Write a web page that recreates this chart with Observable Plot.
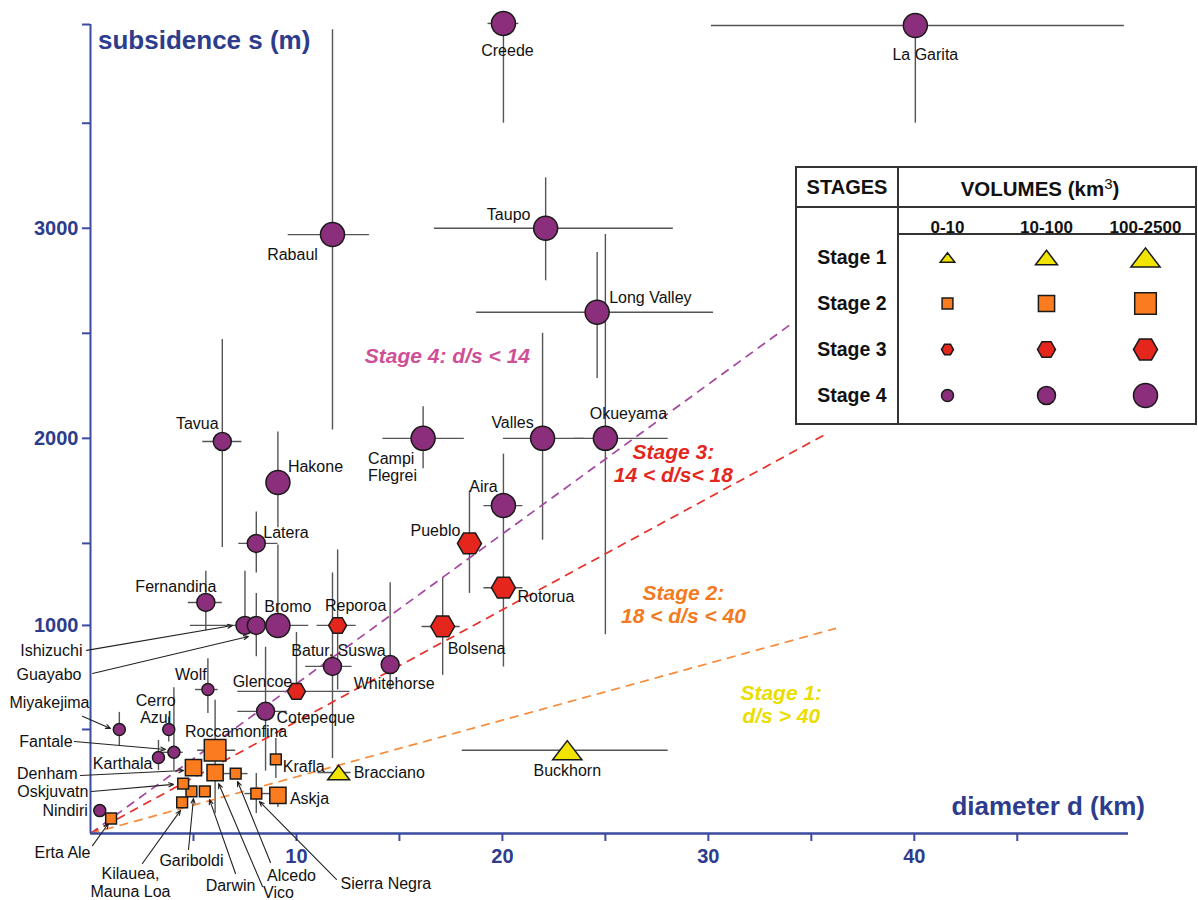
<!DOCTYPE html>
<html><head><meta charset="utf-8">
<script src="https://cdn.jsdelivr.net/npm/d3@7"></script>
<script src="https://cdn.jsdelivr.net/npm/@observablehq/plot@0.6"></script>
<style>
body{margin:0;background:#fff;}
#wrap{position:relative;width:1198px;height:900px;overflow:hidden;font-family:"Liberation Sans",Arial,Helvetica,sans-serif;background:#fff;}
#wrap > svg{position:absolute;left:0;top:0;}
.axtitle{position:absolute;color:#2d3c8c;font-weight:bold;font-size:26px;white-space:nowrap;line-height:1;}
#legend{position:absolute;left:795px;top:166px;width:402px;height:259px;border:2px solid #333;box-sizing:border-box;background:#fff;}
#legend .ln{position:absolute;background:#333;}
#legend .hd{position:absolute;font-weight:bold;color:#111;white-space:nowrap;line-height:1;text-align:center;}
#legend svg{position:absolute;left:0;top:38px;}
</style></head>
<body><div id="wrap"></div>
<script>
// ---------------- data ----------------
const names = ["Creede","La Garita","Rabaul","Taupo","Long Valley","Valles","Okueyama","Campi Flegrei","Tavua","Hakone",
  "Latera","Fernandina","Ishizuchi","Guayabo","Bromo","Cotepeque","Batur, Suswa","Whitehorse","Aira","Wolf",
  "Cerro Azul","Fantale","Karthala","Miyakejima","Nindiri",
  "Reporoa","Glencoe","Pueblo","Rotorua","Bolsena",
  "Roccamonfina","Vico","Alcedo","Darwin","Gariboldi","Kilauea, Mauna Loa","Oskjuvatn","Denham","Askja","Krafla","Sierra Negra","Erta Ale",
  "Bracciano","Buckhorn"];
// diameter d (km)
const diam = [20.05,40.05,11.75,22.1,24.6,21.95,25.0,16.15,6.4,9.1,
  8.05,5.6,7.5,8.05,9.1,8.5,11.75,14.55,20.05,5.7,
  3.8,4.05,3.3,1.4,0.45,
  12.0,10.0,18.4,20.05,17.1,
  6.05,6.05,7.05,5.55,4.9,4.45,4.5,5.0,9.1,9.0,8.05,1.0,
  12.05,23.15];
// subsidence s (m)
const subs = [3975,3965,2970,3000,2600,2000,2000,2000,1985,1790,
  1500,1140,1000,1000,1000,587,803,812,1680,692,
  500,390,365,500,110,
  1000,683,1500,1230,995,
  400,293,288,202,202,150,240,317,183,356,192,72,
  293,400];
// stage 1..4
const stage = [4,4,4,4,4,4,4,4,4,4, 4,4,4,4,4,4,4,4,4,4, 4,4,4,4,4, 3,3,3,3,3, 2,2,2,2,2,2,2,2,2,2,2,2, 1,1];
// volume class: 1 = 0-10, 2 = 10-100, 3 = 100-2500 km3
const vol = [3,3,3,3,3,3,3,3,2,3, 2,2,2,2,3,2,2,2,3,1, 1,1,1,1,1, 2,2,3,3,3, 3,2,1,1,1,1,1,2,2,1,1,1, 2,3];
// diameter uncertainty (km)
const dLo = [19.3,30.15,9.6,16.7,18.75,20.05,23.5,14.2,5.45,null, 7.2,4.75,4.85,null,8.5,7.15,10.45,null,19.1,5.1,
  null,3.25,null,null,null, 11.0,7.15,null,19.1,16.1, 5.2,null,6.4,null,null,null,null,null,null,null,7.5,null, 11.05,18.05];
const dHi = [20.8,50.2,13.55,28.3,30.25,24.0,28.05,18.15,7.35,null, 9.1,6.4,9.5,null,10.6,9.55,12.7,null,21.0,6.2,
  null,4.5,null,null,null, 12.9,12.6,null,21.0,17.95, 7.05,null,7.65,null,null,null,null,null,null,null,8.75,null, 12.65,28.05];
// subsidence uncertainty (m)
const sLo = [3500,3500,2040,2750,2285,1515,955,1855,1475,1575, 1320,975,1000,850,1000,300,360,690,800,577,
  440,303,303,423,null, 690,683,1195,null,760, 95,null,null,null,null,null,null,null,125,264,96,null, null,null];
const sHi = [4015,4015,3945,3240,2885,2500,2970,2150,2470,2030, 1650,1330,1330,1195,1490,895,1320,1260,1925,840,
  560,700,447,582,null, 1460,966,1750,null,1290, 640,null,null,null,null,null,null,null,220,457,288,null, null,null];

// stage boundary lines d/s = 14, 18, 40 (end points)
const boundName = ["d/s = 14","d/s = 18","d/s = 40"];
const boundEndD = [34.1, 35.7, 36.2];
const boundEndS = [2550, 2020, 986];

// zone annotations
const zoneText = ["Stage 4: d/s < 14", "Stage 3:\n14 < d/s< 18", "Stage 2:\n18 < d/s < 40", "Stage 1:\nd/s > 40"];
const zoneD = [17.33, 28.3, 28.79, 33.54];
const zoneS = [2395, 1881, 1128, 620];

// axis ticks
const xTicks = [5,10,15,20,25,30,35,40,45];
const yTicks = [500,1000,1500,2000,2500,3000,3500,3970];
const stageNames = ["Stage 1","Stage 2","Stage 3","Stage 4"];
const volNames = ["0-10","10-100","100-2500"];

// ---------------- layout / styles ----------------
const xDomain = [0, 50.4];
// the figure's hand-drawn s axis is not uniform: spacing of these values along it
const yBreaks = [0, 1000, 1500, 3970];
const yBreakPos = [0, 1000, 1394.2, 3888];
const warp = d3.scaleLinear().domain(yBreaks).range(yBreakPos);
const navy = "#2d3c8c", axisBlue = "#3a4ba0";
const fontFam = '"Liberation Sans", Arial, Helvetica, sans-serif';

const symTri = {draw(c, size){const r=Math.sqrt(size/Math.PI), w=1.22*r, h=1.6*r; c.moveTo(0,-h/2); c.lineTo(w,h/2); c.lineTo(-w,h/2); c.closePath();}};
const symSq  = {draw(c, size){const r=Math.sqrt(size/Math.PI), a=0.9*r; c.moveTo(-a,-a); c.lineTo(a,-a); c.lineTo(a,a); c.lineTo(-a,a); c.closePath();}};
const symHex = {draw(c, size){const r=Math.sqrt(size/Math.PI), h=r*0.866; c.moveTo(-r,0); c.lineTo(-r/2,-h); c.lineTo(r/2,-h); c.lineTo(r,0); c.lineTo(r/2,h); c.lineTo(-r/2,h); c.closePath();}};
const symCirc = {draw(c, size){const r=Math.sqrt(size/Math.PI); c.moveTo(r,0); c.arc(0,0,r,0,2*Math.PI);}};
const stageSymbol = {1: symTri, 2: symSq, 3: symHex, 4: symCirc};
const stageFill = {1: "#f0e400", 2: "#fb7b1f", 3: "#e4261c", 4: "#8b2f7c"};
const zoneColor = ["#cf4f97", "#e4271d", "#f47a20", "#ebdd00"];
const zoneSize = [21, 21, 21, 21];
const boundColor = ["#a4479f", "#e8302a", "#f68b3c"];
const rScale = {type: "linear", domain: [1, 3], range: [6, 12]};
const labelSize = 16;

// direct label placement: [dx, dy, textAnchor]
const labelPlace = {
  "Creede":[4,27,"middle"], "La Garita":[10,29,"middle"], "Rabaul":[-40,20,"middle"], "Taupo":[-37,-14,"middle"],
  "Long Valley":[12,-15,"start"], "Valles":[-30,-16,"middle"], "Okueyama":[23,-25,"middle"],
  "Campi Flegrei":[-55,29,"start"], "Tavua":[-25,-18,"middle"], "Hakone":[10,-16,"start"], "Latera":[7,-11,"start"],
  "Fernandina":[-30,-16,"middle"], "Bromo":[10,-19,"middle"], "Cotepeque":[11,6,"start"], "Batur, Suswa":[6,-16,"middle"],
  "Whitehorse":[4,19,"middle"], "Aira":[-20,-19,"middle"], "Wolf":[-17,-15,"middle"], "Cerro Azul":[-13,-20,"middle"],
  "Karthala":[-6,6,"end"], "Nindiri":[-12,0,"end"], "Reporoa":[18,-20,"middle"], "Glencoe":[-34,-10,"middle"],
  "Pueblo":[-34,-13,"middle"], "Rotorua":[14,9,"start"], "Bolsena":[5,22,"start"], "Roccamonfina":[21,-19,"middle"],
  "Askja":[12,3,"start"], "Krafla":[7,7,"start"], "Bracciano":[15,0,"start"], "Buckhorn":[0,20,"middle"]
};
const labelText = {"Campi Flegrei":"Campi\nFlegrei", "Cerro Azul":"Cerro\nAzul", "Kilauea, Mauna Loa":"Kilauea,\nMauna Loa"};
// callouts with leader arrows (in data units): label point, arrow start, arrow end
const callouts = [
  {name:"Ishizuchi", ld:-0.39, ls:880, anchor:"end", d1:-0.19, s1:880, d2:6.89, s2:1000},
  {name:"Guayabo", ld:-0.44, ls:764, anchor:"end", d1:0.1, s1:769, d2:7.67, s2:947},
  {name:"Miyakejima", ld:-0.05, ls:630, anchor:"end", d1:-0.39, s1:563, d2:0.97, s2:505},
  {name:"Fantale", ld:-0.87, ls:442, anchor:"end", d1:-0.78, s1:442, d2:3.64, s2:404},
  {name:"Denham", ld:-0.63, ls:288, anchor:"end", d1:-0.49, s1:279, d2:4.52, s2:303},
  {name:"Oskjuvatn", ld:-0.1, ls:202, anchor:"end", d1:0.05, s1:202, d2:4.03, s2:236},
  {name:"Erta Ale", ld:-1.36, ls:-91, anchor:"middle", d1:0.1, s1:-58, d2:0.87, s2:48},
  {name:"Kilauea, Mauna Loa", ld:1.94, ls:-236, anchor:"middle", d1:2.52, s1:-144, d2:4.37, s2:111},
  {name:"Gariboldi", ld:4.9, ls:-130, anchor:"middle", d1:4.76, s1:-77, d2:5.0, s2:168},
  {name:"Darwin", ld:6.8, ls:-250, anchor:"middle", d1:7.04, s1:-192, d2:5.78, s2:163},
  {name:"Vico", ld:9.13, ls:-284, anchor:"middle", d1:8.35, s1:-255, d2:6.22, s2:240},
  {name:"Alcedo", ld:9.76, ls:-202, anchor:"middle", d1:8.74, s1:-139, d2:7.14, s2:250},
  {name:"Sierra Negra", ld:12.14, ls:-240, anchor:"start", d1:11.94, s1:-221, d2:8.2, s2:154}
];

// ---------------- build ----------------
const rows = names.map((n,i)=>({name:n, label: labelText[n] || n, d:diam[i], s:subs[i], stage:stage[i], vol:vol[i],
  dLo:dLo[i], dHi:dHi[i], sLo:sLo[i], sHi:sHi[i]}));
const hbars = rows.filter(r=>r.dLo!=null);
const vbars = rows.filter(r=>r.sLo!=null);
const bounds = boundName.map((n,i)=>({name:n, d1:0, s1:0, d2:boundEndD[i], s2:boundEndS[i], color:boundColor[i]}));
const yTop = yBreaks[yBreaks.length-1];

const marks = [];
marks.push(Plot.ruleY(hbars, {y:"s", x1:"dLo", x2:"dHi", stroke:"#555", strokeWidth:1.4}));
marks.push(Plot.ruleX(vbars, {x:"d", y1:"sLo", y2:"sHi", stroke:"#555", strokeWidth:1.4}));
bounds.forEach(b => marks.push(Plot.link([b], {x1:"d1", y1:"s1", x2:"d2", y2:"s2", stroke:b.color, strokeWidth:1.7, strokeDasharray:"9,6"})));
// axes lines
marks.push(Plot.ruleX([xDomain[0]], {y1:0, y2:yTop, stroke:axisBlue, strokeWidth:2}));
marks.push(Plot.ruleY([0], {x1:xDomain[0], x2:xDomain[1], stroke:axisBlue, strokeWidth:2.5}));
marks.push(Plot.arrow(callouts, {x1:"d1", y1:"s1", x2:"d2", y2:"s2", stroke:"#222", strokeWidth:1.1, headLength:7, headAngle:45}));
[4,3,2,1].forEach(st => {
  marks.push(Plot.dot(rows.filter(r=>r.stage===st), {x:"d", y:"s", r:"vol", symbol:stageSymbol[st], fill:stageFill[st], stroke:"#1a1a1a", strokeWidth:1.5}));
});
rows.forEach(r => {
  const p = labelPlace[r.name];
  if (!p) return;
  marks.push(Plot.text([r], {x:"d", y:"s", text:"label", dx:p[0], dy:p[1], textAnchor:p[2], fill:"#111",
    fontSize:labelSize, fontWeight:"normal", lineHeight:1.05}));
});
callouts.forEach(c => {
  marks.push(Plot.text([c], {x:"ld", y:"ls", text: d => labelText[d.name] || d.name, textAnchor:c.anchor, fill:"#111",
    fontSize:labelSize, fontWeight:"normal", lineHeight:1.1}));
});
zoneText.forEach((t,i) => {
  marks.push(Plot.text([{t, d:zoneD[i], s:zoneS[i]}], {x:"d", y:"s", text:"t", fill:zoneColor[i], fontSize:zoneSize[i],
    fontWeight:"bold", fontStyle:"italic", lineHeight:1.08}));
});

const main = Plot.plot({
  width: 1198, height: 900,
  marginLeft: 90, marginRight: 70, marginTop: 24, marginBottom: 67,
  style: {fontFamily: fontFam, fontSize: "20px", fontWeight: "bold", color: navy, background: "transparent", overflow: "visible"},
  x: {domain: xDomain, ticks: xTicks, tickFormat: d => d % 10 === 0 ? String(d) : "", tickSize: 8, tickPadding: 7, label: null},
  y: {domain: [0, warp(yTop)], transform: warp, ticks: yTicks.map(warp),
      tickFormat: v => { const s = Math.round(warp.invert(v)); return s % 1000 === 0 ? String(s) : ""; },
      tickSize: 8, tickPadding: 4, label: null},
  r: rScale,
  marks
});
d3.select(main).selectAll("g[aria-label$='axis tick'], g.tick line").attr("stroke-width", 2).attr("stroke", axisBlue);

const wrap = document.getElementById("wrap");
wrap.appendChild(main);

const t1 = document.createElement("div");
t1.className = "axtitle"; t1.textContent = "subsidence s (m)";
t1.style.left = "98px"; t1.style.top = "27px";
wrap.appendChild(t1);
const t2 = document.createElement("div");
t2.className = "axtitle"; t2.textContent = "diameter d (km)";
t2.style.right = "53px"; t2.style.top = "793px";
wrap.appendChild(t2);

// ---------------- legend table ----------------
const leg = document.createElement("div");
leg.id = "legend";
leg.innerHTML = `
  <div class="ln" style="left:100px;top:0;width:2px;height:100%"></div>
  <div class="ln" style="left:0;top:38px;width:100%;height:2px"></div>
  <div class="ln" style="left:100px;top:65px;right:0;height:2px"></div>
  <div class="hd" style="left:0;width:100px;top:9px;font-size:20px">STAGES</div>
  <div class="hd" style="left:102px;width:282px;top:8px;font-size:20.5px">VOLUMES (km<sup style="font-weight:normal;font-size:15px;vertical-align:7px">3</sup>)</div>`;
wrap.appendChild(leg);

const legRows = [];
stageNames.forEach((sn, si) => volNames.forEach((vn, vi) => legRows.push({stage: si+1, stageName: sn, volName: vn, vol: vi+1})));
const legMarks = [];
[1,2,3,4].forEach(st => legMarks.push(Plot.dot(legRows.filter(r=>r.stage===st), {x:"volName", y:"stageName", r:"vol",
  symbol: stageSymbol[st], fill: stageFill[st], stroke:"#1a1a1a", strokeWidth:1.5})));
legMarks.push(Plot.text(stageNames, {y: d=>d, frameAnchor:"left", textAnchor:"end", dx:-11, fontSize:19.5, fontWeight:"bold", fill:"#111"}));
legMarks.push(Plot.text(volNames, {x: d=>d, frameAnchor:"top", dy:-13, fontSize:17, fontWeight:"bold", fill:"#111"}));
const legPlot = Plot.plot({
  width: 398, height: 217,
  marginLeft: 100, marginRight: 0, marginTop: 27, marginBottom: 4,
  style: {fontFamily: fontFam, background: "transparent", overflow: "visible"},
  x: {type: "point", domain: volNames, padding: 0.5, axis: null},
  y: {type: "point", domain: stageNames, padding: 0.5, axis: null},
  r: rScale,
  marks: legMarks
});
leg.appendChild(legPlot);
</script>
</body></html>
